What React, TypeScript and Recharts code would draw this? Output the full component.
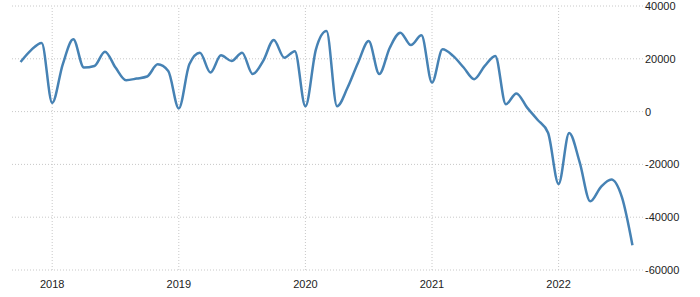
import { Line, LineChart, ReferenceLine, XAxis, YAxis } from 'recharts';

// monthly values, Oct 2017 .. Aug 2022
const values = [
  18800, 23300, 26000, 3300, 17900, 27400, 16700, 17300, 22700, 16700,
  11900, 12500, 13300, 17900, 15400, 1200, 17900, 22300, 14800, 21300,
  19200, 22300, 14200, 19200, 27100, 20400, 22900, 2000, 23600, 30500,
  2000, 9100, 18600, 26700, 14200, 24200, 29900, 25200, 28900, 11000,
  23600, 21100, 16700, 12300, 17300, 21100, 2800, 6900, 1600, -3100,
  -8000, -27400, -8100, -19200, -34000, -28600, -25700, -32400, -50600,
];

const yearTicks = [3, 15, 27, 39, 51];
const yearLabels = ['2018', '2019', '2020', '2021', '2022'];
const valueTicks = [-60000, -40000, -20000, 0, 20000, 40000];

const data = values.map((v, i) => ({ idx: i, value: v }));

const tickStyle = { fill: '#222', fontSize: 11, fontFamily: '"Liberation Sans", Arial, sans-serif' };
const gridColor = '#c8c8c8';

export default function App() {
  return (
    <div style={{ position: 'absolute', left: 0, top: 0, width: 700, height: 297, background: '#fff' }}>
      <LineChart width={700} height={297} data={data} margin={{ top: 6, right: 7, left: 10, bottom: 7 }}>
        {valueTicks.map((v) => (
          <ReferenceLine key={`h${v}`} y={v} stroke={gridColor} strokeDasharray="1 2" />
        ))}
        {yearTicks.map((t) => (
          <ReferenceLine key={`v${t}`} x={t} stroke={gridColor} strokeDasharray="1 2" />
        ))}
        <XAxis
          dataKey="idx"
          type="number"
          domain={[-1, 59]}
          ticks={yearTicks}
          tickFormatter={(t) => yearLabels[yearTicks.indexOf(t)] ?? ''}
          axisLine={false}
          tickLine={false}
          tick={tickStyle}
          tickMargin={4}
          height={20}
        />
        <YAxis
          orientation="right"
          domain={[-60000, 40000]}
          ticks={valueTicks}
          axisLine={false}
          tickLine={false}
          tickSize={0}
          tickMargin={2}
          tick={{ ...tickStyle, textAnchor: 'start' }}
          width={50}
        />
        <Line
          type="monotone"
          dataKey="value"
          stroke="#4682b4"
          strokeWidth={2.5}
          dot={false}
          isAnimationActive={false}
        />
      </LineChart>
    </div>
  );
}
